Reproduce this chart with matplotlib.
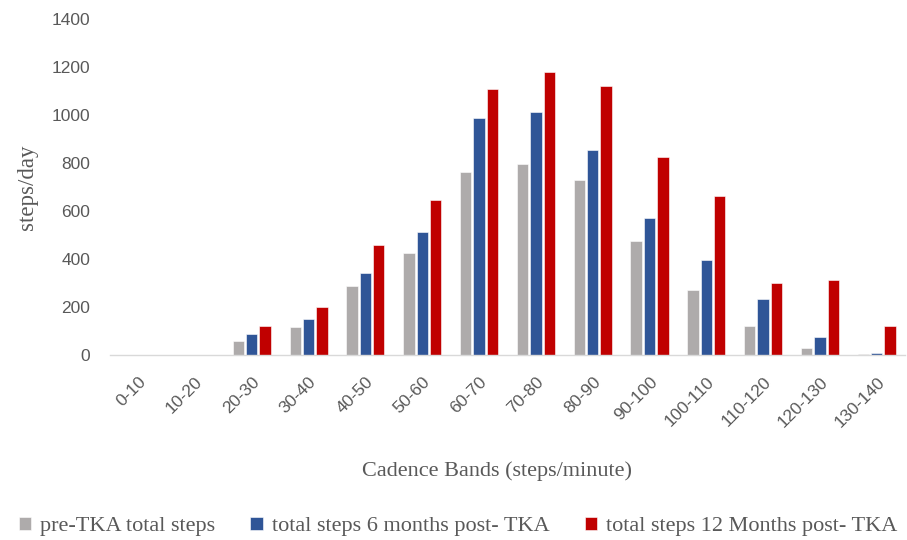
import numpy as np
import matplotlib as mpl
mpl.use('Agg')
import matplotlib.pyplot as plt

# Cadence bands (steps/minute) and steps/day per band
bands = ["0-10", "10-20", "20-30", "30-40", "40-50", "50-60", "60-70",
         "70-80", "80-90", "90-100", "100-110", "110-120", "120-130", "130-140"]
pre_tka = [0, 0, 57, 115, 287, 425, 763, 794, 729, 473, 269, 119, 28, 5]
post_6m = [0, 0, 85, 150, 340, 512, 989, 1012, 854, 569, 396, 232, 74, 6]
post_12m = [0, 0, 122, 200, 456, 647, 1107, 1179, 1120, 825, 661, 298, 313, 121]

series_names = ["pre-TKA total steps", "total steps 6 months post- TKA",
                "total steps 12 Months post- TKA"]
colors = ["#AEABAB", "#2F5597", "#C00000"]

serif = "Liberation Serif"
sans = "Liberation Sans"

fig = plt.figure(figsize=(9.07, 5.4), dpi=100)
ax = fig.add_axes([0.121, 0.343, 0.877, 0.622])

x = np.arange(len(bands))
width = 0.2
gap = 0.035
for i, (vals, name, col) in enumerate(zip([pre_tka, post_6m, post_12m], series_names, colors)):
    offs = (i - 1) * (width + gap)
    ax.bar(x + offs, vals, width=width, color=col, edgecolor="white",
           linewidth=0.4, label=name)

ax.set_xlim(-0.5, len(bands) - 0.5)
ax.set_ylim(0, 1400)
ax.set_yticks(np.arange(0, 1401, 200))
ax.tick_params(axis="both", length=0, colors="#595959", labelsize=12.5)
for lab in ax.get_yticklabels():
    lab.set_family(sans)
ax.tick_params(axis="y", pad=14)

ax.set_xticks(x)
ax.set_xticklabels(bands, rotation=45, ha="right", rotation_mode="anchor",
                   family=sans, fontsize=12.5, color="#595959")
ax.tick_params(axis="x", pad=14)

for s in ["top", "right", "left"]:
    ax.spines[s].set_visible(False)
ax.spines["bottom"].set_color("#D9D9D9")
ax.spines["bottom"].set_linewidth(1.0)

ax.set_ylabel("steps/day", family=serif, fontsize=16.5, color="#595959", labelpad=10)
fig.text(0.548, 0.128, "Cadence Bands (steps/minute)", family=serif, fontsize=16,
         color="#595959", ha="center", va="center")

handles, labels = ax.get_legend_handles_labels()
leg = fig.legend(handles, labels, loc="lower center", bbox_to_anchor=(0.505, -0.03),
                 ncol=3, frameon=False, handlelength=0.55, handleheight=0.55,
                 handletextpad=0.4, columnspacing=1.6,
                 prop={"family": serif, "size": 16})
for t in leg.get_texts():
    t.set_color("#595959")

fig.savefig("out.png", dpi=100)
plt.close()
